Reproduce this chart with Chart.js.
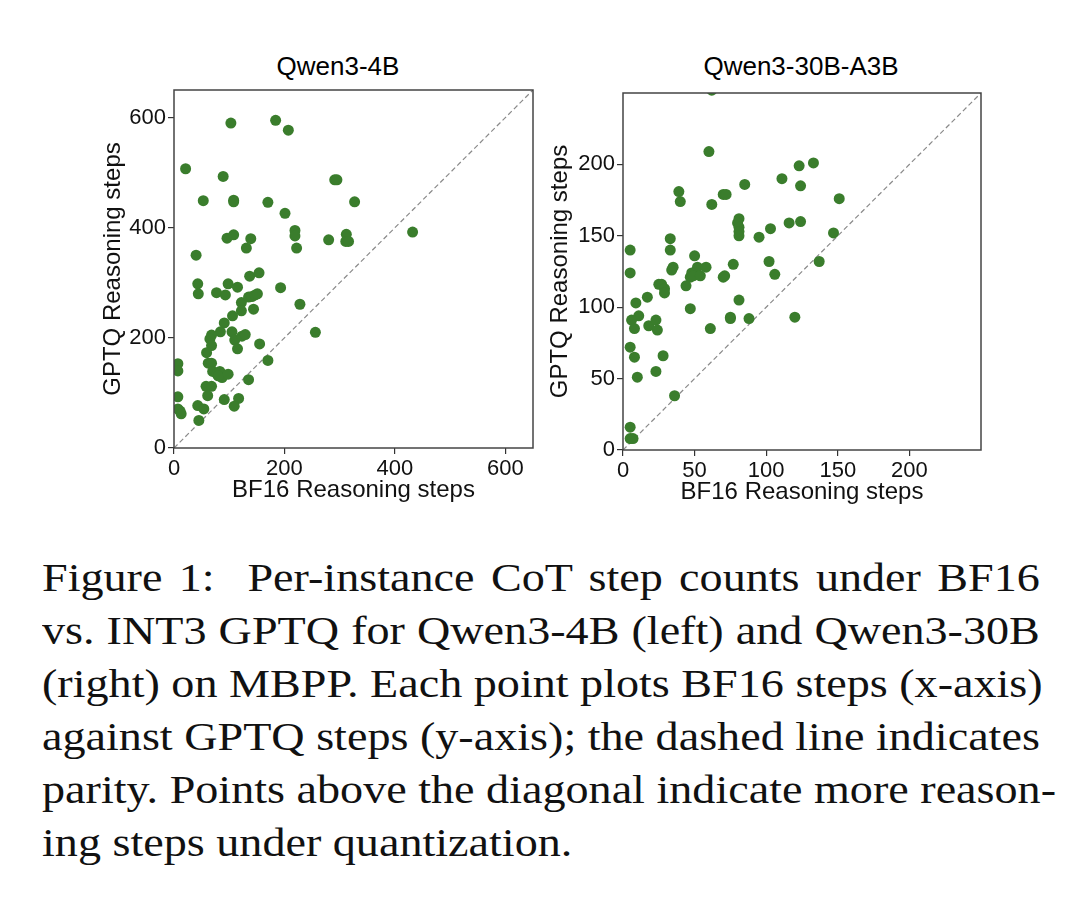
<!DOCTYPE html>
<html>
<head>
<meta charset="utf-8">
<script src="https://cdn.jsdelivr.net/npm/chart.js@4.4.1/dist/chart.umd.min.js"></script>
<style>
  body { margin: 0; background: #fff; width: 1080px; height: 919px; position: relative; overflow: hidden; }
  canvas { position: absolute; }
  .ptitle { position: absolute; font-family: "Liberation Sans", Arial, sans-serif; font-size: 26px; color: #000;
            transform: translate(-50%, -50%); white-space: nowrap; }
  #caption { position: absolute; left: 42px; top: 551px; width: 887px; font-family: "Liberation Serif", "Times New Roman", serif;
             font-size: 41px; line-height: 53px; color: #111; transform: scaleX(1.125); transform-origin: 0 0; }
  #caption div { text-align: justify; text-align-last: justify; white-space: nowrap; }
  #caption div.last { text-align-last: left; }
</style>
</head>
<body>
<div class="ptitle" style="left:338px; top:66px;">Qwen3-4B</div>
<div class="ptitle" style="left:801px; top:66px;">Qwen3-30B-A3B</div>
<canvas id="left" width="460" height="469" style="left:95px; top:40px;"></canvas>
<canvas id="right" width="460" height="471" style="left:542px; top:40px;"></canvas>
<div id="caption">
  <div>Figure 1:&nbsp; Per-instance CoT step counts under BF16</div>
  <div>vs. INT3 GPTQ for Qwen3-4B (left) and Qwen3-30B</div>
  <div>(right) on MBPP. Each point plots BF16 steps (x-axis)</div>
  <div>against GPTQ steps (y-axis); the dashed line indicates</div>
  <div>parity. Points above the diagonal indicate more reason-</div>
  <div class="last">ing steps under quantization.</div>
</div>
<script>
// Qwen3-4B: BF16 steps (x) vs GPTQ steps (y)
const qwen4bBf16 = [103,184,207,21,89,291,295,53,108,108,170,327,201,219,219,222,280,312,311,316,
  432,96,108,139,131,40,43,44,98,77,93,115,137,154,193,228,122,122,135,141,147,151,144,106,91,
  84,105,110,115,123,129,68,65,68,59,62,68,70,78,83,87,80,98,155,256,170,135,58,68,61,91,117,109,
  43,54,45,7,7,7,7,11,13];
const qwen4bGptq = [590,595,577,507,493,487,487,449,450,447,446,447,426,395,385,363,378,388,375,375,
  392,381,387,380,363,350,298,280,298,282,278,292,312,318,291,261,264,249,274,275,278,280,252,240,227,
  211,211,196,180,203,206,205,198,186,173,154,154,139,134,139,128,131,134,189,210,159,124,112,112,95,88,90,76,
  77,71,50,153,140,93,71,67,62];

// Qwen3-30B-A3B
const qwen30bBf16 = [60,133,123,124,111,85,39,40,70,72,62,151,81,80,81,81,81,95,103,116,124,147,137,102,106,
  33,33,35,34,50,52,58,48,47,49,54,77,70,71,44,25,27,29,29,17,5,5,9,11,6,8,18,23,24,47,61,81,75,75,88,
  120,5,8,10,28,23,36,5,5,7,62];
const qwen30bGptq = [209,201,199,185,190,186,181,174,179,179,172,176,162,159,156,153,150,149,155,159,160,152,132,132,123,
  148,140,128,126,136,128,128,124,121,122,122,130,121,122,115,116,116,113,110,107,140,124,103,94,91,85,87,91,84,99,85,105,93,92,92,
  93,72,65,51,66,55,38,16,8,8,252];

// axis limits and ticks
const qwen4bLimits = [0, 650];
const qwen4bTicks = [0, 200, 400, 600];
const qwen30bLimits = [0, 250];
const qwen30bTicks = [0, 50, 100, 150, 200];

const pointColor = '#3a7d2c';
const tickFont = { family: 'Liberation Sans, Arial, sans-serif', size: 22 };
const labelFont = { family: 'Liberation Sans, Arial, sans-serif', size: 24 };

const framePlugin = {
    id: 'frame',
    afterDatasetsDraw(chart) {
        const a = chart.chartArea;
        const ctx = chart.ctx;
        ctx.save();
        ctx.strokeStyle = '#444';
        ctx.lineWidth = 1.5;
        ctx.strokeRect(a.left, a.top, a.right - a.left, a.bottom - a.top);
        ctx.restore();
    }
};

function makeAxis(limits, ticks, title, fitSize, horizontal) {
    return {
        type: 'linear',
        min: limits[0],
        max: limits[1],
        afterBuildTicks: s => { s.ticks = ticks.map(v => ({ value: v })); },
        afterFit: s => { if (horizontal) s.height = fitSize; else s.width = fitSize; },
        border: { display: false },
        grid: { drawOnChartArea: false, drawTicks: true, tickLength: 6, tickColor: '#333', lineWidth: 1.2 },
        ticks: { color: '#111', font: tickFont, padding: 2, maxRotation: 0 },
        title: { display: true, text: title, color: '#111', font: labelFont, padding: 4 }
    };
}

function makeChart(id, xs, ys, limits, ticks, yWidth, xHeight, padding) {
    const pts = xs.map((x, i) => ({ x: x, y: ys[i] }));
    new Chart(document.getElementById(id), {
        type: 'scatter',
        data: {
            datasets: [
                { data: pts, backgroundColor: pointColor, borderWidth: 0, pointRadius: 5.5, clip: 0, order: 1 },
                { type: 'line', data: [{ x: limits[0], y: limits[0] }, { x: limits[1], y: limits[1] }],
                  borderColor: '#8a8a8a', borderWidth: 1.2, borderDash: [5, 3], pointRadius: 0, fill: false, order: 2 }
            ]
        },
        options: {
            responsive: false,
            animation: false,
            layout: { padding: padding },
            plugins: { legend: { display: false }, tooltip: { enabled: false } },
            scales: {
                x: makeAxis(limits, ticks, 'BF16 Reasoning steps', xHeight, true),
                y: makeAxis(limits, ticks, 'GPTQ Reasoning steps', yWidth, false)
            }
        },
        plugins: [framePlugin]
    });
}

makeChart('left', qwen4bBf16, qwen4bGptq, qwen4bLimits, qwen4bTicks, 79, 61, { top: 50, right: 22, bottom: 0, left: 0 });
makeChart('right', qwen30bBf16, qwen30bGptq, qwen30bLimits, qwen30bTicks, 81, 61, { top: 53, right: 21, bottom: 0, left: 0 });
</script>
</body>
</html>
